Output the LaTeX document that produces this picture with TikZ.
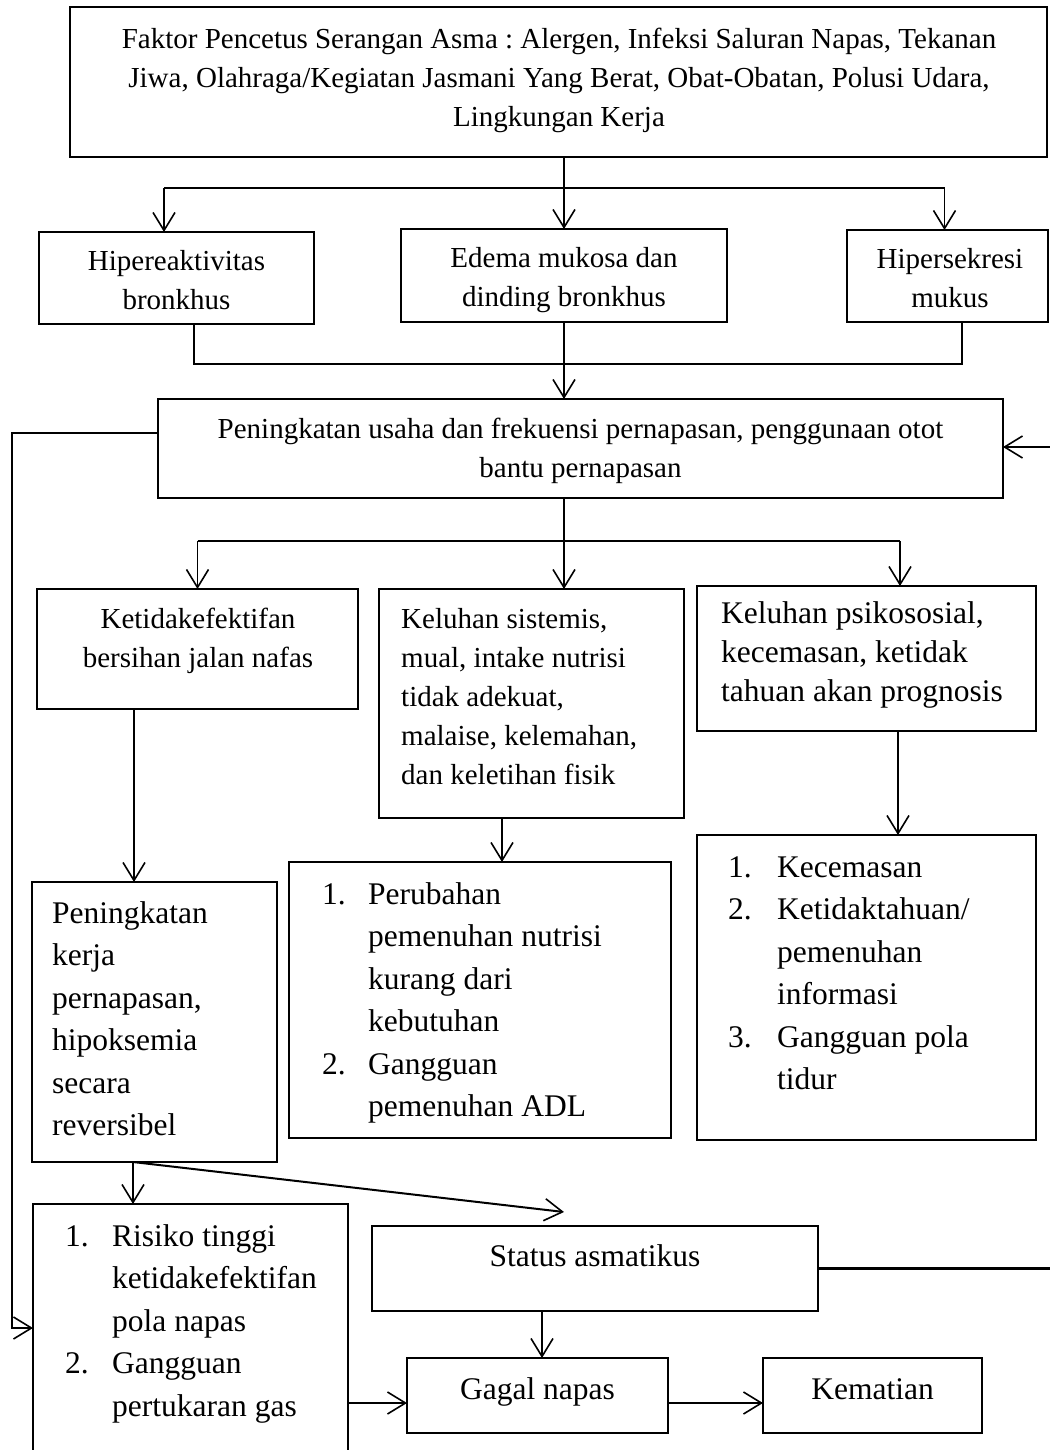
\documentclass[tikz,border=0pt]{standalone}
\usepackage{fontspec}
\setmainfont{Liberation Serif}
\usetikzlibrary{arrows.meta}
\frenchspacing
\begin{document}
\begin{tikzpicture}[x=1pt,y=-1pt,
  box/.style={draw, line width=1.3pt, inner sep=0pt, outer sep=0pt},
  ln/.style={line width=1.8pt},
  arr/.style={line width=1.6pt, -{Straight Barb[length=18pt,width=22pt,line width=1.6pt]}},
  txt/.style={inner sep=0pt, font=\fontsize{29pt}{39pt}\selectfont},
  txtb/.style={inner sep=0pt, font=\fontsize{31.5pt}{42.5pt}\selectfont},
  txtc/.style={inner sep=0pt, font=\fontsize{31.5pt}{39pt}\selectfont}]
\useasboundingbox (0,0) rectangle (1049,1450);
\fill[white] (0,0) rectangle (1049,1450);

% boxes
\node[box, minimum width=977pt, minimum height=150pt] (top) at (558.5,82) {};
\node[box, minimum width=275pt, minimum height=92pt] (hr) at (176.5,278) {};
\node[box, minimum width=326pt, minimum height=93pt] (ed) at (564,275.5) {};
\node[box, minimum width=201pt, minimum height=92pt] (hs) at (947.5,276) {};
\node[box, minimum width=845pt, minimum height=99pt] (pk) at (580.5,448.5) {};
\node[box, minimum width=321pt, minimum height=120pt] (kt) at (197.5,649) {};
\node[box, minimum width=305pt, minimum height=229pt] (ks) at (531.5,703.5) {};
\node[box, minimum width=339pt, minimum height=145pt] (kp) at (866.5,658.5) {};
\node[box, minimum width=245pt, minimum height=280pt] (pkk) at (154.5,1022) {};
\node[box, minimum width=382pt, minimum height=276pt] (pn) at (480,1000) {};
\node[box, minimum width=339pt, minimum height=305pt] (kc) at (866.5,987.5) {};
\node[box, minimum width=315pt, minimum height=266pt] (rl) at (190.5,1337) {};
\node[box, minimum width=446pt, minimum height=85pt] (sa) at (595,1268.5) {};
\node[box, minimum width=261pt, minimum height=75pt] (gn) at (537.5,1395.5) {};
\node[box, minimum width=219pt, minimum height=75pt] (km) at (872.5,1395.5) {};

% texts
\node[txt, align=center, anchor=north] (t0) at (559,20.7) {\strut Faktor Pencetus Serangan Asma : Alergen, Infeksi Saluran Napas, Tekanan\\ Jiwa, Olahraga/Kegiatan Jasmani Yang Berat, Obat-Obatan, Polusi Udara,\\ Lingkungan Kerja};
\node[txt, align=center, anchor=north] (t1) at (176.5,242.7) {\strut Hipereaktivitas\\ bronkhus};
\node[txt, align=center, anchor=north] (t2) at (564,239.7) {\strut Edema mukosa dan\\ dinding bronkhus};
\node[txt, align=center, anchor=north] (t3) at (950,240.7) {\strut Hipersekresi\\ mukus};
\node[txt, align=center, anchor=north] (t4) at (580.5,410.7) {\strut Peningkatan usaha dan frekuensi pernapasan, penggunaan otot\\ bantu pernapasan};
\node[txt, align=center, anchor=north] (t5) at (198,600.7) {\strut Ketidakefektifan\\ bersihan jalan nafas};
\node[txt, align=left, anchor=north west] (t6) at (401,600.7) {\strut Keluhan sistemis,\\ mual, intake nutrisi\\ tidak adekuat,\\ malaise, kelemahan,\\ dan keletihan fisik};
\node[txtc, align=left, anchor=north west] (t7) at (721,596) {\strut Keluhan psikososial,\\ kecemasan, ketidak\\ tahuan akan prognosis};
\node[txtb, align=left, anchor=north west] (t8) at (52,893.25) {\strut Peningkatan\\ kerja\\ pernapasan,\\ hipoksemia\\ secara\\ reversibel};
\node[txtb, anchor=north west] (t9) at (322,874.25) {\begin{tabular}{@{}p{46pt}@{}l@{}}1. & Perubahan\\ & pemenuhan nutrisi\\ & kurang dari\\ & kebutuhan\\ 2. & Gangguan\\ & pemenuhan ADL\end{tabular}};
\node[txtb, anchor=north west] (t10) at (728,847.25) {\begin{tabular}{@{}p{49pt}@{}l@{}}1. & Kecemasan\\ 2. & Ketidaktahuan/\\ & pemenuhan\\ & informasi\\ 3. & Gangguan pola\\ & tidur\end{tabular}};
\node[txtb, anchor=north west] (t11) at (65,1216.25) {\begin{tabular}{@{}p{47pt}@{}l@{}}1. & Risiko tinggi\\ & ketidakefektifan\\ & pola napas\\ 2. & Gangguan\\ & pertukaran gas\end{tabular}};
\node[txtb, anchor=base] (t12) at (595,1266) {Status asmatikus};
\node[txtb, anchor=base] (t13) at (537.5,1399) {Gagal napas};
\node[txtb, anchor=base] (t14) at (872.5,1399) {Kematian};

% helper coordinates
\coordinate (j1) at (564,188);
\coordinate (j2) at (564,364);
\coordinate (j3) at (564,541);
\coordinate (hrin) at ([xshift=-12.5pt]hr.north);
\coordinate (hrout) at ([xshift=17.5pt]hr.south);
\coordinate (hsin) at ([xshift=-3pt]hs.north);
\coordinate (hsout) at ([xshift=14.5pt]hs.south);
\coordinate (kpin) at ([xshift=33.5pt]kp.north);
\coordinate (kpout) at ([xshift=31.5pt]kp.south);
\coordinate (ktout) at ([xshift=-63.5pt]kt.south);
\coordinate (ksout) at ([xshift=-29.5pt]ks.south);
\coordinate (pkout) at ([xshift=-21.5pt]pkk.south);
\coordinate (satgt) at ([xshift=-31pt,yshift=14pt]sa.north);
\coordinate (saout) at ([xshift=-53pt]sa.south);
\coordinate (gnin) at ([yshift=-7.5pt]gn.west);
\coordinate (gnout) at ([yshift=-7.5pt]gn.east);
\coordinate (kmin) at ([yshift=-7.5pt]km.west);
\coordinate (pkw) at ([yshift=15.5pt]pk.west);
\coordinate (pke) at ([yshift=1.5pt]pk.east);
\coordinate (rlw) at ([yshift=9pt]rl.west);
\coordinate (lft) at (12,0);
\coordinate (rgt) at (1056,0);

% connectors
\draw[arr] (ed.north |- top.south) -- (ed.north);
\draw[ln] (hrin |- j1) -- (hsin |- j1);
\draw[arr] (hrin |- j1) -- (hrin);
\draw[arr] (hsin |- j1) -- (hsin);
\draw[ln] (hrout) -- (hrout |- j2) -- (hsout |- j2) -- (hsout);
\draw[arr] (ed.south) -- (ed.south |- pk.north);
\draw[arr] (ed.south |- pk.south) -- (ed.south |- ks.north);
\draw[ln] (kt.north |- j3) -- (kpin |- j3);
\draw[arr] (kt.north |- j3) -- (kt.north);
\draw[arr] (kpin |- j3) -- (kpin);
\draw[arr] (ktout) -- (ktout |- pkk.north);
\draw[arr] (ksout) -- (ksout |- pn.north);
\draw[arr] (kpout) -- (kpout |- kc.north);
\draw[arr] (pkout) -- (pkout |- rl.north);
\draw[arr, line width=2pt] (pkout) -- (satgt);
\draw[arr] (saout) -- (saout |- gn.north);
\draw[arr, line width=2pt] (rl.east |- gnin) -- (gnin);
\draw[arr, line width=2pt] (gnout) -- (kmin);
\draw[arr] (pkw) -- (pkw -| lft) -- (lft |- rlw) -- (rlw);
\draw[arr, line width=2.2pt] (sa.east) -- (sa.east -| rgt) -- (rgt |- pke) -- (pke);
\end{tikzpicture}
\end{document}
